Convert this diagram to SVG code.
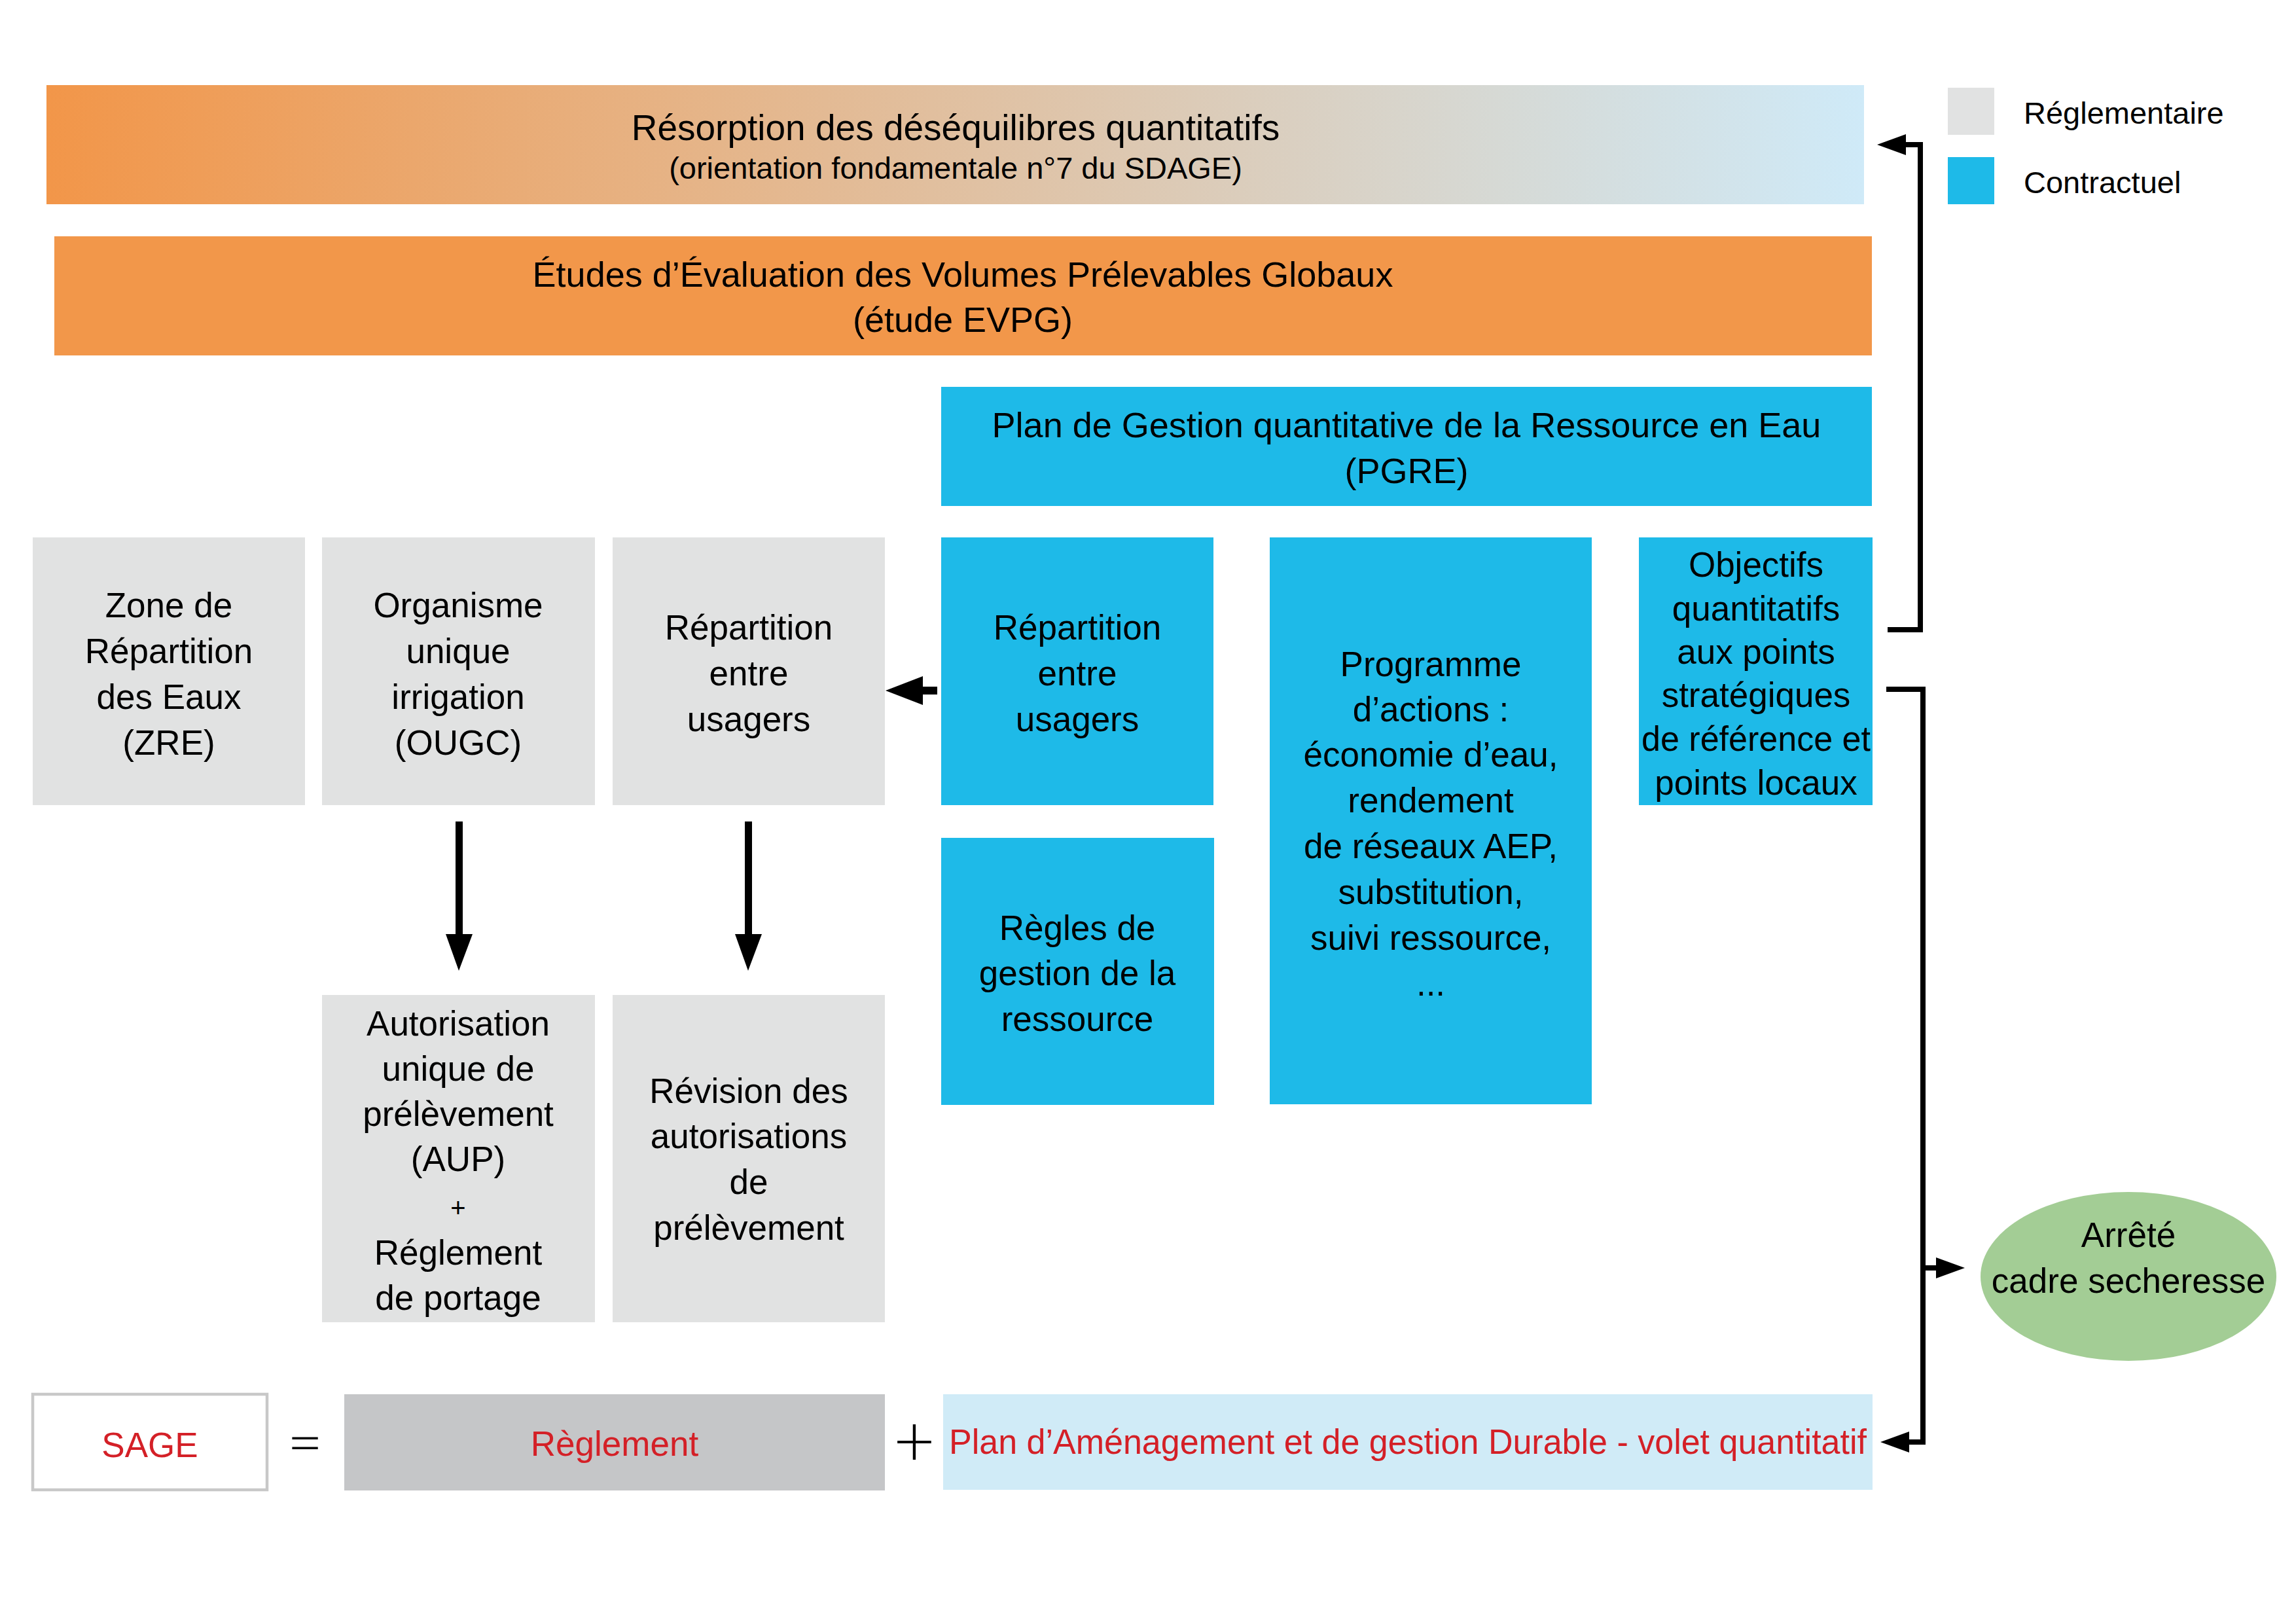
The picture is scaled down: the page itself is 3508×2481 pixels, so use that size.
<svg xmlns="http://www.w3.org/2000/svg" width="3508" height="2481" viewBox="0 0 3508 2481">
<defs>
<linearGradient id="gTop" x1="0" y1="0" x2="1" y2="0">
<stop offset="0" stop-color="#f29649"/>
<stop offset="1" stop-color="#cfeaf8"/>
</linearGradient>
<style>
text{font-family:"Liberation Sans",Arial,sans-serif;fill:#000;text-anchor:middle}
.n{font-size:53px}
.t{font-size:55px}
.s{font-size:47px}
.red{fill:#d42027}
.gray{fill:#e1e2e2}
.blue{fill:#1ebae8}
.lg{font-size:47px;text-anchor:start}
.sym{font-family:Lato,"Liberation Sans",sans-serif;font-weight:300}
.ln{fill:none;stroke:#000;stroke-width:8}
</style>
</defs>
<rect width="3508" height="2481" fill="#fff"/>

<g id="resorption">
<rect x="71" y="130" width="2777" height="182" fill="url(#gTop)"/>
<text class="t" x="1460" y="214">Résorption des déséquilibres quantitatifs</text>
<text class="s" x="1460" y="273">(orientation fondamentale n°7 du SDAGE)</text>
</g>

<g id="evpg">
<rect x="83" y="361" width="2777" height="182" fill="#f2974a"/>
<text class="n" x="1471" y="438" style="font-size:54px">Études d’Évaluation des Volumes Prélevables Globaux</text>
<text class="n" x="1471" y="507" style="font-size:54px">(étude EVPG)</text>
</g>

<g id="legend">
<rect x="2976" y="134" width="71" height="72" fill="#e1e2e2"/>
<text class="lg" x="3092" y="189">Réglementaire</text>
<rect x="2976" y="240" width="71" height="72" fill="#1ebae8"/>
<text class="lg" x="3092" y="295">Contractuel</text>
</g>

<g id="pgre">
<rect class="blue" x="1438" y="591" width="1422" height="182"/>
<text class="n" x="2149" y="668" style="font-size:54px">Plan de Gestion quantitative de la Ressource en Eau</text>
<text class="n" x="2149" y="738" style="font-size:54px">(PGRE)</text>
</g>

<g id="zre">
<rect class="gray" x="50" y="821" width="416" height="409"/>
<text class="n" x="258" y="943">Zone de</text>
<text class="n" x="258" y="1013">Répartition</text>
<text class="n" x="258" y="1083">des Eaux</text>
<text class="n" x="258" y="1153">(ZRE)</text>
</g>

<g id="ougc">
<rect class="gray" x="492" y="821" width="417" height="409"/>
<text class="n" x="700" y="943">Organisme</text>
<text class="n" x="700" y="1013">unique</text>
<text class="n" x="700" y="1083">irrigation</text>
<text class="n" x="700" y="1153">(OUGC)</text>
</g>

<g id="repartition-reg">
<rect class="gray" x="936" y="821" width="416" height="409"/>
<text class="n" x="1144" y="977">Répartition</text>
<text class="n" x="1144" y="1047">entre</text>
<text class="n" x="1144" y="1117">usagers</text>
</g>

<g id="repartition-con">
<rect class="blue" x="1438" y="821" width="416" height="409"/>
<text class="n" x="1646" y="977">Répartition</text>
<text class="n" x="1646" y="1047">entre</text>
<text class="n" x="1646" y="1117">usagers</text>
</g>

<g id="programme">
<rect class="blue" x="1940" y="821" width="492" height="866"/>
<text class="n" x="2186" y="1033">Programme</text>
<text class="n" x="2186" y="1102">d’actions :</text>
<text class="n" x="2186" y="1171">économie d’eau,</text>
<text class="n" x="2186" y="1241">rendement</text>
<text class="n" x="2186" y="1311">de réseaux AEP,</text>
<text class="n" x="2186" y="1381">substitution,</text>
<text class="n" x="2186" y="1451">suivi ressource,</text>
<text class="n" x="2186" y="1521">...</text>
</g>

<g id="objectifs">
<rect class="blue" x="2504" y="821" width="357" height="409"/>
<text class="n" x="2683" y="881">Objectifs</text>
<text class="n" x="2683" y="948">quantitatifs</text>
<text class="n" x="2683" y="1014">aux points</text>
<text class="n" x="2683" y="1080">stratégiques</text>
<text class="n" x="2683" y="1147" textLength="350" lengthAdjust="spacingAndGlyphs">de référence et</text>
<text class="n" x="2683" y="1214">points locaux</text>
</g>

<g id="regles">
<rect class="blue" x="1438" y="1280" width="417" height="408"/>
<text class="n" x="1646" y="1436">Règles de</text>
<text class="n" x="1646" y="1505">gestion de la</text>
<text class="n" x="1646" y="1575">ressource</text>
</g>

<g id="aup">
<rect class="gray" x="492" y="1520" width="417" height="500"/>
<text class="n" x="700" y="1582">Autorisation</text>
<text class="n" x="700" y="1651">unique de</text>
<text class="n" x="700" y="1720">prélèvement</text>
<text class="n" x="700" y="1789">(AUP)</text>
<text class="n" x="700" y="1859" style="font-size:40px">+</text>
<text class="n" x="700" y="1932">Réglement</text>
<text class="n" x="700" y="2001">de portage</text>
</g>

<g id="revision">
<rect class="gray" x="936" y="1520" width="416" height="500"/>
<text class="n" x="1144" y="1685">Révision des</text>
<text class="n" x="1144" y="1754">autorisations</text>
<text class="n" x="1144" y="1824">de</text>
<text class="n" x="1144" y="1894">prélèvement</text>
</g>

<g id="arrete">
<ellipse cx="3252" cy="1950" rx="226" ry="129" fill="#a3cd95"/>
<text class="n" x="3252" y="1905">Arrêté</text>
<text class="n" x="3252" y="1975">cadre secheresse</text>
</g>

<g id="sage">
<rect x="50" y="2130" width="358" height="146" fill="#fff" stroke="#c8c8c8" stroke-width="4.5"/>
<text class="n red" x="229" y="2226">SAGE</text>
</g>

<g id="equals">
<text class="sym" x="466" y="2237" style="font-size:95px">=</text>
</g>

<g id="reglement">
<rect x="526" y="2130" width="826" height="147" fill="#c5c6c8"/>
<text class="n red" x="939" y="2224">Règlement</text>
</g>

<g id="plus">
<text class="sym" x="1397" y="2240" style="font-size:110px">+</text>
</g>

<g id="pagd">
<rect x="1441" y="2130" width="1420" height="146" fill="#d0ebf7"/>
<text class="n red" x="1450" y="2221" style="text-anchor:start" textLength="1402" lengthAdjust="spacingAndGlyphs">Plan d’Aménagement et de gestion Durable - volet quantitatif</text>
</g>

<g id="connectors">
<!-- Répartition contractuel -> réglementaire -->
<rect x="1408" y="1049" width="24" height="12"/>
<polygon points="1353,1055 1410,1033 1410,1077"/>
<!-- OUGC -> AUP -->
<rect x="696" y="1255" width="11" height="176"/>
<polygon points="681,1427 722,1427 701,1483"/>
<!-- Répartition -> Révision -->
<rect x="1138" y="1255" width="11" height="176"/>
<polygon points="1123,1427 1164,1427 1143,1483"/>
<!-- Objectifs -> Résorption -->
<path class="ln" d="M2884,962 H2934 V221 H2908"/>
<polygon points="2868,221 2912,205 2912,237"/>
<!-- Objectifs -> Arrêté / PAGD -->
<path class="ln" d="M2882,1053 H2938 V2203 H2912"/>
<path class="ln" d="M2938,1937 H2962"/>
<polygon points="3002,1937 2958,1921 2958,1953"/>
<polygon points="2873,2203 2917,2187 2917,2219"/>
</g>
</svg>
